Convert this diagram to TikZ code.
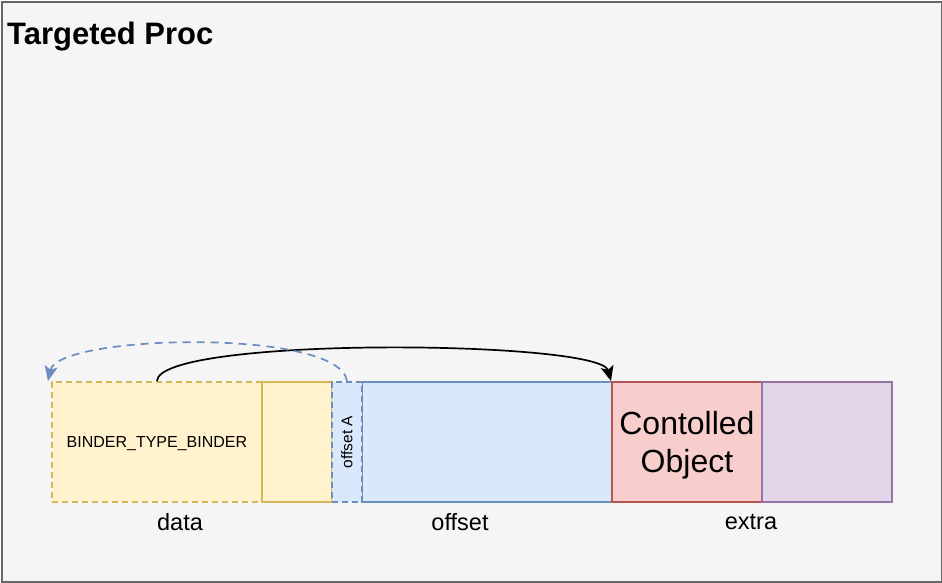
\documentclass[tikz,border=0pt]{standalone}
\usepackage{fontspec}
\setmainfont{Liberation Sans}
\usetikzlibrary{arrows.meta}
\definecolor{bgfill}{HTML}{F5F5F5}
\definecolor{bgline}{HTML}{666666}
\definecolor{yfill}{HTML}{FFF2CC}
\definecolor{yline}{HTML}{D6B656}
\definecolor{bfill}{HTML}{DAE8FC}
\definecolor{bline}{HTML}{6C8EBF}
\definecolor{rfill}{HTML}{F8CECC}
\definecolor{rline}{HTML}{B85450}
\definecolor{pfill}{HTML}{E1D5E7}
\definecolor{pline}{HTML}{9673A6}
\tikzset{
  cell/.style={draw, line width=1.9pt, minimum height=120pt, inner sep=0pt, anchor=north west},
  lbl/.style={font=\fontsize{23.5}{26}\selectfont, inner sep=0pt},
}
\begin{document}
\begin{tikzpicture}[x=1pt,y=-1pt]
\useasboundingbox (0,0) rectangle (942,582);
\node[draw=bgline, fill=bgfill, line width=2pt, minimum width=940pt, minimum height=580pt, anchor=north west, inner sep=0pt] (frame) at (1,1) {};
\node[anchor=base west, font=\bfseries\fontsize{31}{36}\selectfont, inner sep=0pt] (title) at (7,44) {Targeted Proc};
% data
\node[cell, draw=yline, fill=yfill, dashed, dash pattern=on 6pt off 4pt, minimum width=210pt] (binder) at (51,381) {};
\node[font=\fontsize{16}{19}\selectfont] (bt) at ([yshift=-2pt]binder.center) {BINDER\_TYPE\_BINDER};
\node[cell, draw=yline, fill=yfill, minimum width=70pt] (data) at (261,381) {};
% offset
\node[cell, draw=bline, fill=bfill, minimum width=250pt] (offset) at (361,381) {};
\node[cell, draw=bline, fill=bfill, dashed, dash pattern=on 6pt off 4pt, minimum width=30pt] (offA) at (331,381) {};
\node[rotate=90, font=\fontsize{15.5}{18}\selectfont] (offAt) at (offA.center) {offset A};
% extra
\node[cell, draw=rline, fill=rfill, minimum width=150pt] (ctrl) at (611,381) {};
\node[align=center, font=\fontsize{32}{38}\selectfont, inner sep=0pt] (ctrlt) at ([yshift=-3pt]ctrl.center) {Contolled\\Object};
\node[cell, draw=pline, fill=pfill, minimum width=130pt] (extra) at (761,381) {};
% labels
\node[lbl] (ldata) at (180,522) {data};
\node[lbl] (loff) at (460,522) {offset};
\node[lbl] (lext) at (751,522) {extra};
% arrows
\draw[line width=1.7pt, -{Stealth[length=15pt,width=13pt,inset=3.5pt]}] (binder.north) .. controls (159,336) and (600,340) .. (ctrl.north west);
\draw[bline, line width=1.7pt, dashed, dash pattern=on 8pt off 6pt, -{Stealth[length=15pt,width=13pt,inset=3.5pt]}] (offA.north) .. controls (340,328) and (58,334) .. ([xshift=-3pt]binder.north west);
\end{tikzpicture}
\end{document}
